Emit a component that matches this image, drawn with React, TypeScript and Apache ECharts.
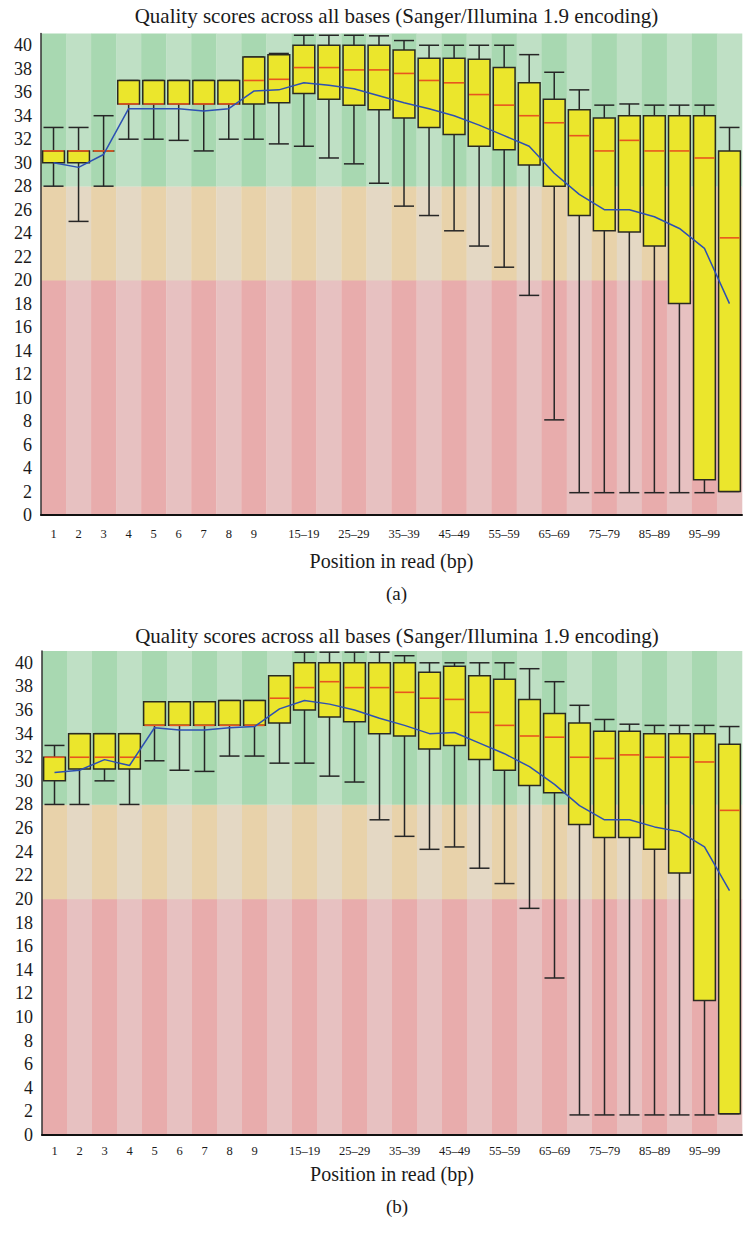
import React, { useEffect, useRef } from 'react';
import * as echarts from 'echarts';

const TITLE = 'Quality scores across all bases (Sanger/Illumina 1.9 encoding)';
const X_NAME = 'Position in read (bp)';
const PANEL_LABELS = ['(a)', '(b)'];

const POSITIONS = ['1', '2', '3', '4', '5', '6', '7', '8', '9', '10–14', '15–19', '20–24', '25–29', '30–34', '35–39', '40–44', '45–49', '50–54', '55–59', '60–64', '65–69', '70–74', '75–79', '80–84', '85–89', '90–94', '95–99', '100–101'];

// quality zones (Phred): poor, reasonable, good
const ZONE_BOUNDS = [0, 20, 28, 41];

// Panel (a)
const A_LOW = [28, 25, 28, 32, 32, 31.9, 31, 32, 32, 31.6, 31.4, 30.4, 29.9, 28.25, 26.3, 25.5, 24.2, 22.9, 21.1, 18.7, 8.1, 1.9, 1.9, 1.9, 1.9, 1.9, 1.9, 2];
const A_Q1 = [30, 30, 31, 35, 35, 35, 35, 35, 35, 35.1, 35.9, 35.4, 34.9, 34.5, 33.8, 33.0, 32.4, 31.4, 31.1, 29.8, 28.0, 25.5, 24.2, 24.1, 22.9, 18.0, 3.0, 2];
const A_MED = [31, 31, 31, 35, 35, 35, 35, 35, 37, 37.1, 38.1, 38.1, 37.9, 37.9, 37.6, 37.0, 36.8, 35.8, 34.9, 34.0, 33.4, 32.3, 31.0, 31.9, 31.0, 31.0, 30.4, 23.6];
const A_Q3 = [31, 31, 31, 37, 37, 37, 37, 37, 39, 39.2, 40, 40, 40, 40, 39.6, 38.9, 38.9, 38.8, 38.1, 36.8, 35.4, 34.5, 33.8, 34.0, 34.0, 34.0, 34.0, 31.0];
const A_HIGH = [33, 33, 34, 37, 37, 37, 37, 37, 39, 39.3, 40.85, 40.85, 40.85, 40.8, 40.4, 40, 40, 40, 40, 39.2, 37.7, 36.2, 34.9, 35.0, 34.9, 34.9, 34.9, 33.0];
const A_MEAN = [30.0, 29.6, 30.7, 34.6, 34.6, 34.6, 34.4, 34.6, 36.1, 36.2, 36.8, 36.6, 36.3, 35.7, 35.1, 34.6, 34.0, 33.2, 32.3, 31.4, 29.1, 27.3, 26.0, 26.0, 25.4, 24.4, 22.7, 18.0];

// Panel (b)
const B_LOW = [28, 28, 30, 28, 31.7, 30.9, 30.8, 32.1, 32.1, 31.5, 31.5, 30.4, 29.9, 26.7, 25.3, 24.2, 24.4, 22.6, 21.3, 19.2, 13.3, 1.7, 1.7, 1.7, 1.7, 1.7, 1.7, 1.8];
const B_Q1 = [30, 31, 31, 31, 34.7, 34.7, 34.7, 34.7, 34.7, 34.9, 36.0, 35.4, 35.0, 34.0, 33.8, 32.7, 33.0, 31.8, 30.9, 29.6, 29.0, 26.3, 25.2, 25.2, 24.2, 22.2, 11.4, 1.8];
const B_MED = [32, 32, 32, 32, 34.7, 34.7, 34.7, 34.7, 34.7, 37.0, 37.9, 38.4, 37.9, 37.9, 37.5, 37.0, 36.9, 35.8, 34.7, 33.8, 33.7, 32.0, 31.9, 32.2, 32.0, 32.0, 31.6, 27.5];
const B_Q3 = [32, 34, 34, 34, 36.7, 36.7, 36.7, 36.8, 36.8, 38.9, 40, 40, 40, 40, 40, 39.2, 39.7, 38.9, 38.6, 36.9, 35.7, 34.9, 34.2, 34.2, 34.0, 34.0, 34.0, 33.1];
const B_HIGH = [33, 34, 34, 34, 36.7, 36.7, 36.7, 36.8, 36.8, 38.9, 40.9, 40.9, 40.9, 40.9, 40.6, 40, 40, 40, 40, 39.5, 38.4, 36.4, 35.2, 34.8, 34.7, 34.7, 34.7, 34.6];
const B_MEAN = [30.7, 30.9, 31.8, 31.3, 34.5, 34.3, 34.3, 34.5, 34.6, 36.1, 36.8, 36.5, 36.0, 35.3, 34.7, 34.0, 34.1, 33.2, 32.3, 31.2, 29.7, 27.9, 26.7, 26.7, 26.1, 25.7, 24.4, 20.7];

const FONT = 'Liberation Serif';
const ZONE_COLORS = [
  ['#e8acac', '#e7c1c1'],
  ['#e8d2aa', '#e4d8c4'],
  ['#a8d8b1', '#bfe0c5'],
];

function boxRows(low: number[], q1: number[], med: number[], q3: number[], high: number[]) {
  return low.map((v, i) => [i, v, q1[i], med[i], q3[i], high[i]]);
}

const renderBackground = (params: any, api: any) => {
  const idx = api.value(0);
  const w = api.size([1, 0])[0];
  const children: any[] = [];
  for (let z = 0; z < ZONE_BOUNDS.length - 1; z++) {
    const top = api.coord([idx, ZONE_BOUNDS[z + 1]]);
    const bottom = api.coord([idx, ZONE_BOUNDS[z]]);
    children.push({
      type: 'rect',
      shape: { x: top[0] - w / 2, y: top[1], width: w + 0.3, height: bottom[1] - top[1] + 0.3 },
      style: { fill: ZONE_COLORS[z][idx % 2] },
    });
  }
  return { type: 'group', children };
};

const renderBox = (params: any, api: any) => {
  const idx = api.value(0);
  const low = api.coord([idx, api.value(1)]);
  const q1 = api.coord([idx, api.value(2)]);
  const med = api.coord([idx, api.value(3)]);
  const q3 = api.coord([idx, api.value(4)]);
  const high = api.coord([idx, api.value(5)]);
  const band = api.size([1, 0])[0];
  const bw = band * 0.87;
  const cw = band * 0.8;
  const x = low[0];
  const line = (x1: number, y1: number, x2: number, y2: number, stroke: string, lw: number) => ({
    type: 'line',
    shape: { x1, y1, x2, y2 },
    style: { stroke, lineWidth: lw },
  });
  return {
    type: 'group',
    children: [
      line(x, high[1], x, low[1], '#262626', 1.5),
      line(x - cw / 2, high[1], x + cw / 2, high[1], '#262626', 1.5),
      line(x - cw / 2, low[1], x + cw / 2, low[1], '#262626', 1.5),
      {
        type: 'rect',
        shape: { x: x - bw / 2, y: q3[1], width: bw, height: q1[1] - q3[1] },
        style: { fill: '#ebe62c', stroke: '#2a2a22', lineWidth: 1.5 },
      },
      line(x - bw / 2 + 0.8, med[1], x + bw / 2 - 0.8, med[1], '#e8561e', 1.6),
    ],
  };
};

function buildOption() {
  const grids = [
    { left: 41, top: 33.5, width: 701, height: 481.5 },
    { left: 42, top: 651, width: 700, height: 484 },
  ];
  const labelMargins = [12, 9];
  const nameGaps = [36, 29];
  const panels = [
    { low: A_LOW, q1: A_Q1, med: A_MED, q3: A_Q3, high: A_HIGH, mean: A_MEAN },
    { low: B_LOW, q1: B_Q1, med: B_MED, q3: B_Q3, high: B_HIGH, mean: B_MEAN },
  ];
  const series: any[] = [];
  panels.forEach((p, gi) => {
    series.push({
      type: 'custom',
      xAxisIndex: gi,
      yAxisIndex: gi,
      z: -1,
      silent: true,
      renderItem: renderBackground,
      data: POSITIONS.map((_, i) => [i]),
      encode: { x: 0 },
    });
    series.push({
      type: 'custom',
      xAxisIndex: gi,
      yAxisIndex: gi,
      z: 2,
      renderItem: renderBox,
      data: boxRows(p.low, p.q1, p.med, p.q3, p.high),
      encode: { x: 0, y: [1, 2, 3, 4, 5] },
    });
    series.push({
      type: 'line',
      xAxisIndex: gi,
      yAxisIndex: gi,
      z: 3,
      data: p.mean,
      symbol: 'none',
      lineStyle: { color: '#2d50b3', width: 1.5 },
      itemStyle: { color: '#2d50b3' },
    });
  });

  const txt = (size: number) => ({ fontFamily: FONT, fontSize: size, fontWeight: 'normal', color: '#1a1a1a' });

  return {
    animation: false,
    backgroundColor: '#ffffff',
    textStyle: { fontFamily: FONT },
    title: [
      { text: TITLE, left: 391.5, top: 0, textAlign: 'center', textStyle: txt(21) },
      { text: PANEL_LABELS[0], left: 391.5, top: 579, textAlign: 'center', textStyle: txt(19) },
      { text: TITLE, left: 392, top: 620, textAlign: 'center', textStyle: txt(21) },
      { text: PANEL_LABELS[1], left: 392, top: 1192, textAlign: 'center', textStyle: txt(19) },
    ],
    grid: grids.map((g) => ({ ...g, containLabel: false, outerBoundsMode: 'none' })),
    xAxis: grids.map((_, gi) => ({
      type: 'category',
      gridIndex: gi,
      data: POSITIONS,
      boundaryGap: true,
      name: X_NAME,
      nameLocation: 'middle',
      nameGap: nameGaps[gi],
      nameTextStyle: txt(20),
      axisLine: { show: true, lineStyle: { color: '#111', width: 2 } },
      axisTick: { show: false },
      splitLine: { show: false },
      axisLabel: {
        interval: (index: number) => index < 9 || (index >= 10 && index <= 26 && index % 2 === 0),
        ...txt(12.5),
        margin: labelMargins[gi],
      },
    })),
    yAxis: grids.map((_, gi) => ({
      type: 'value',
      gridIndex: gi,
      min: 0,
      max: 41,
      interval: 2,
      axisLine: { show: true, lineStyle: { color: '#333', width: 1.5 } },
      axisTick: { show: false },
      splitLine: { show: false },
      axisLabel: {
        showMaxLabel: false,
        ...txt(18),
        margin: 9,
      },
    })),
    series,
  };
}

export default function App() {
  const ref = useRef<HTMLDivElement>(null);
  useEffect(() => {
    if (!ref.current) return;
    const chart = echarts.init(ref.current, undefined, { renderer: 'svg' });
    chart.setOption(buildOption() as any);
    return () => chart.dispose();
  }, []);
  return (
    <div
      ref={ref}
      style={{ position: 'absolute', left: 0, top: 0, width: 745, height: 1234, background: '#fff' }}
    />
  );
}
